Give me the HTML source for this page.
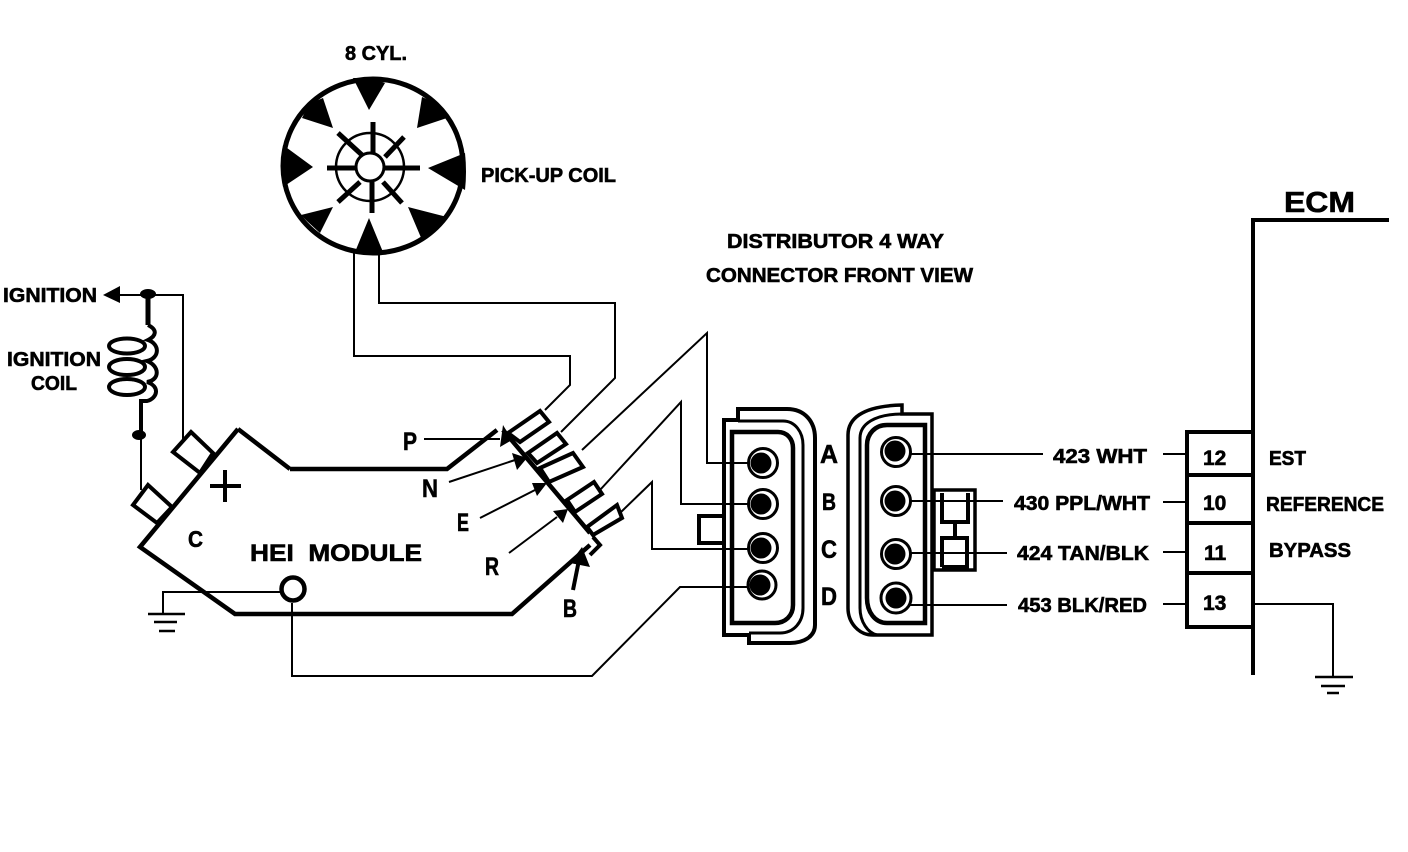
<!DOCTYPE html>
<html><head><meta charset="utf-8"><style>
html,body{margin:0;padding:0;background:#fff}
svg{display:block}
text{font-family:"Liberation Sans",sans-serif;font-weight:bold;fill:#000;stroke:#000;stroke-width:.6}
</style></head><body>
<svg width="1408" height="852" viewBox="0 0 1408 852" xmlns="http://www.w3.org/2000/svg">
<rect width="1408" height="852" fill="#fff"/>
<g fill="none" stroke="#000" stroke-width="2">
<!-- wheel -->
<ellipse cx="373" cy="166" rx="90" ry="87" stroke-width="5"/>
<circle cx="370" cy="167" r="34" stroke-width="2.5"/>
<circle cx="370" cy="167" r="14" stroke-width="3"/>
<g stroke-width="5">
<path d="M373 122V153M327 168H357M385 168H420M372 182V213M338 133L362 155M404 137L385 157M338 202L360 182M383 182L402 203"/>
</g>
<!-- wheel wires -->
<path d="M354 253V356H570V385L545 410M379 253V303H615V378L561 432M582 450L707 333V463H750M600 490L681 402V504H750M621 512L652 482V549H750M292 603V676H592L680 587H750"/>
<!-- module -->
<path d="M290 469H447L497 430M503 430L590 533M238 429L290 469M238 429L140 547L235 614H512L590 545" stroke-width="4.5" stroke-linejoin="miter"/>
<path d="M508 433L540 411L549 422L520 442Z M528 453L557 433L566 444L537 463Z M540 468L573 453L583 467L549 482Z M567 500L594 482L602 494L575 512Z M587 527L617 505L622 518L593 535Z M593 537L600 545L590 555" stroke-width="4"/>
<!-- plugs left -->
<path d="M191 432L213 453L200 473L173 452Z M148 485L172 507L157 523L133 505Z" stroke-width="4"/>
<path d="M210 486H241M225 470V502" stroke-width="4"/>
<!-- ignition wires -->
<path d="M118 295H183V440"/>
<path d="M141 437V490"/>
<path d="M148 295V325" stroke-width="5"/>
<path d="M148 325C158 330 156 336 148 340C160 344 160 358 147 361C160 366 160 380 147 382C160 386 158 398 147 401H141V434" stroke-width="4"/>
<ellipse cx="127" cy="346" rx="18" ry="7.5" stroke-width="4"/>
<ellipse cx="127" cy="367" rx="18" ry="8" stroke-width="4"/>
<ellipse cx="127" cy="387" rx="18" ry="8" stroke-width="4"/>
<!-- grounds -->
<path d="M282 592H163V613"/>
<path d="M148 614H185M154 622H177M159 631H175" stroke-width="2.5"/>
<circle cx="293" cy="589" r="11.5" stroke-width="4.5" fill="#fff"/>
<!-- label pointers -->
<path d="M424 439H500M449 482L515 460M480 518L535 490M509 553L557 517"/>
<path d="M573 590L580 555" stroke-width="4"/>
<!-- left connector -->
<path d="M738 420V409H787C805 409 815 422 815 438V625C815 637 803 643 790 643H749V635H724V420Z" stroke-width="4"/>
<path d="M738 421H783C795 421 803 432 803 445V608C803 622 794 633 780 633H749" stroke-width="3"/>
<path d="M732 432H778C787 432 793 439 793 448V605C793 616 785 623 775 623H732Z" stroke-width="4.5"/>
<path d="M724 516H699V543H724" stroke-width="4"/>
<!-- right connector -->
<path d="M902 405V414H932V635H873C858 635 848 622 848 608V435C848 420 860 406 902 405Z" stroke-width="3.5"/>
<path d="M902 414C875 414 860 424 860 438V608C860 622 868 633 877 635" stroke-width="3"/>
<path d="M925 425H887C875 425 867 434 867 445V598C867 612 875 623 887 623H925Z" stroke-width="4.5"/>
<rect x="934" y="490" width="41" height="80" stroke-width="3.5"/>
<path d="M942 493V522H968V493M955 522V538M942 567V538H967V567H942" stroke-width="4"/>
<!-- pin wires -->
<path d="M910 454H1043M910 501H1003M905 553H1007M900 605H1007M1163 454H1187M1163 502H1187M1163 552H1187M1163 604H1187"/>
<!-- ecm -->
<path d="M1253 675V220H1389" stroke-width="4"/>
<path d="M1254 432H1187V627H1254M1187 475H1254M1187 523H1254M1187 573H1254" stroke-width="4"/>
<path d="M1255 604H1333V676" stroke-width="2"/>
<path d="M1315 677H1353M1321 686H1345M1327 693H1339" stroke-width="2.5"/>
</g>
<!-- wheel triangles -->
<path d="M353 78L372 78L385 83L369 110Z M283 145L313 167L283 187Q280 166 283 145Z M465 153L428 168L465 190Q467 172 465 153Z M369 218L355 252L383 252Z M323 98L333 128L302 118L309 104Z M422 97L417 128L447 118L438 104Z M333 207L320 233L308 222L301 215Z M408 207L447 217L436 230L422 240Z"/>
<!-- dots, arrows -->
<ellipse cx="148" cy="294" rx="8" ry="5"/>
<ellipse cx="139" cy="435" rx="7" ry="5"/>
<path d="M103 295L120 286V303Z M503 425L512 440L500 447Z M512 453L527 458L517 470Z M532 483L547 483L537 496Z M553 511L568 509L563 523Z M582 547L570 563L590 567Z"/>
<!-- pins -->
<g fill="#fff" stroke="#000" stroke-width="3">
<circle cx="763" cy="463" r="14.5"/><circle cx="763" cy="504" r="14.5"/><circle cx="763" cy="548" r="14.5"/><circle cx="762" cy="585" r="14"/>
<circle cx="896" cy="452" r="14.5"/><circle cx="896" cy="501" r="14.5"/><circle cx="896" cy="554" r="14.5"/><circle cx="896" cy="598" r="15"/>
</g>
<circle cx="761" cy="463" r="10.5"/><circle cx="761" cy="504" r="10.5"/><circle cx="761" cy="548" r="10.5"/><circle cx="760" cy="585" r="10.5"/>
<circle cx="895" cy="451" r="10.5"/><circle cx="895" cy="501" r="10.5"/><circle cx="895" cy="554" r="10.5"/><circle cx="896" cy="598" r="10.5"/>
<!-- labels -->
<g font-size="20">
<text x="345" y="60" textLength="62" lengthAdjust="spacingAndGlyphs">8 CYL.</text>
<text x="481" y="182" textLength="135" lengthAdjust="spacingAndGlyphs">PICK-UP COIL</text>
<text x="727" y="248" textLength="217" lengthAdjust="spacingAndGlyphs">DISTRIBUTOR 4  WAY</text>
<text x="706" y="282" textLength="267" lengthAdjust="spacingAndGlyphs">CONNECTOR FRONT VIEW</text>
<text x="3" y="302" textLength="94" lengthAdjust="spacingAndGlyphs">IGNITION</text>
<text x="7" y="366" textLength="94" lengthAdjust="spacingAndGlyphs">IGNITION</text>
<text x="31" y="390" textLength="46" lengthAdjust="spacingAndGlyphs">COIL</text>
<text x="188" y="547" font-size="23" textLength="15" lengthAdjust="spacingAndGlyphs">C</text>
<text x="250" y="561" font-size="24" textLength="172" xml:space="preserve" lengthAdjust="spacingAndGlyphs">HEI  MODULE</text>
<text x="403" y="450" font-size="25" textLength="14" lengthAdjust="spacingAndGlyphs">P</text>
<text x="422" y="497" font-size="25" textLength="16" lengthAdjust="spacingAndGlyphs">N</text>
<text x="457" y="531" font-size="25" textLength="12" lengthAdjust="spacingAndGlyphs">E</text>
<text x="485" y="575" font-size="25" textLength="14" lengthAdjust="spacingAndGlyphs">R</text>
<text x="563" y="617" font-size="25" textLength="14" lengthAdjust="spacingAndGlyphs">B</text>
<text x="820" y="463" font-size="26" textLength="18" lengthAdjust="spacingAndGlyphs">A</text>
<text x="822" y="510" font-size="24" textLength="14" lengthAdjust="spacingAndGlyphs">B</text>
<text x="821" y="558" font-size="25" textLength="16" lengthAdjust="spacingAndGlyphs">C</text>
<text x="821" y="605" font-size="25" textLength="16" lengthAdjust="spacingAndGlyphs">D</text>
<text x="1053" y="463" textLength="94" lengthAdjust="spacingAndGlyphs">423 WHT</text>
<text x="1014" y="510" textLength="136" lengthAdjust="spacingAndGlyphs">430 PPL/WHT</text>
<text x="1017" y="560" textLength="132" lengthAdjust="spacingAndGlyphs">424 TAN/BLK</text>
<text x="1018" y="612" textLength="129" lengthAdjust="spacingAndGlyphs">453 BLK/RED</text>
<text x="1203" y="465" font-size="21">12</text>
<text x="1203" y="510" font-size="21">10</text>
<text x="1204" y="560" font-size="21">11</text>
<text x="1203" y="610" font-size="21">13</text>
<text x="1269" y="465" textLength="37" lengthAdjust="spacingAndGlyphs">EST</text>
<text x="1266" y="511" textLength="118" lengthAdjust="spacingAndGlyphs">REFERENCE</text>
<text x="1269" y="557" textLength="82" lengthAdjust="spacingAndGlyphs">BYPASS</text>
<text x="1284" y="212" font-size="29" textLength="71" lengthAdjust="spacingAndGlyphs">ECM</text>
</g>
</svg>
</body></html>
